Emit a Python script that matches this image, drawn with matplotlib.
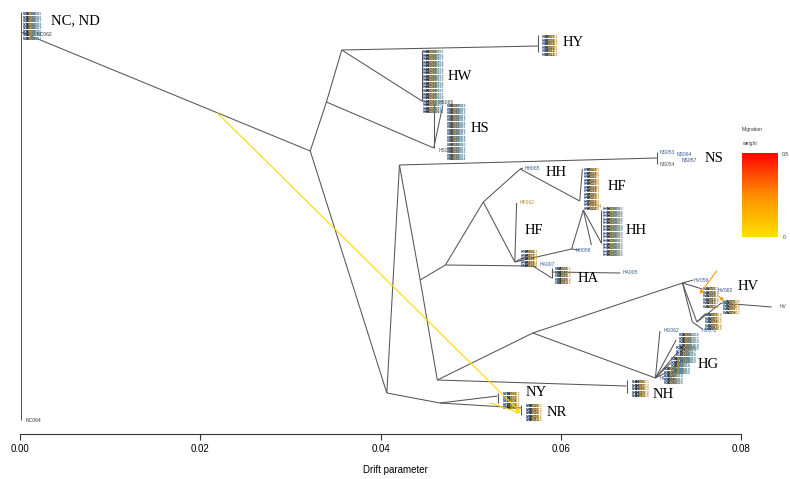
import matplotlib
matplotlib.use('Agg')
import matplotlib.pyplot as plt
import numpy as np
from matplotlib import font_manager
from matplotlib.colors import LinearSegmentedColormap

# tree nodes: (drift parameter, vertical position counted from the top)
nodes = {
    'root': (0.0001, 32), 'rtop': (0.0001, 12), 'nc064': (0.0001, 420),
    'A': (0.0322, 151), 'B': (0.0340, 102), 'C': (0.0357, 50),
    'HYn': (0.0575, 46), 'HYa': (0.0575, 35), 'HYb': (0.0575, 52),
    'HWn': (0.0446, 101), 'HWt': (0.0446, 50),
    'HSn': (0.0459, 148), 'HSt': (0.0459, 104), 'HSm': (0.0469, 106),
    'D': (0.0407, 393), 'E': (0.0421, 165),
    'NSn': (0.0707, 158), 'NSa': (0.0707, 152), 'NSb': (0.0707, 164),
    'F': (0.0444, 280), 'G': (0.0463, 380), 'H': (0.0472, 265),
    'I': (0.0514, 202), 'J': (0.0555, 169), 'hh065': (0.0558, 168),
    'HFn': (0.0621, 201), 'HFt': (0.0624, 169),
    'K': (0.0549, 262), 'hf062': (0.0551, 203), 'hfs': (0.0560, 257),
    'L': (0.0612, 249), 'M': (0.0625, 210), 'hh058': (0.0620, 250),
    'Q': (0.0634, 245), 'R2': (0.0645, 243), 'hhA': (0.0645, 210),
    'HAn': (0.0569, 266), 'ha007': (0.0573, 266), 'HAc': (0.0590, 278),
    'HAd': (0.0590, 268), 'HAe': (0.0590, 272), 'ha005': (0.0666, 273),
    'P': (0.0466, 403), 'NYn': (0.0530, 396), 'NYa': (0.0530, 393), 'NYb': (0.0530, 403),
    'NRn': (0.0556, 408), 'NRa': (0.0556, 405), 'NRb': (0.0556, 415),
    'NHn': (0.0673, 386), 'NHa': (0.0673, 380), 'NHb': (0.0673, 393),
    'N': (0.0569, 333),
    'HVn': (0.0735, 283), 'v1': (0.0747, 280), 'Va': (0.0746, 322), 'Vb': (0.0751, 322),
    'Vc': (0.0778, 303), 'hvx': (0.0834, 307), 'hv072': (0.0757, 329),
    'Vd': (0.0760, 314), 'Ve': (0.0757, 289),
    'HGn': (0.0705, 378), 'hg062': (0.0710, 331), 'G1': (0.0728, 340),
    'G2': (0.0730, 352), 'G3': (0.0722, 363), 'G4': (0.0716, 373),
}
edges = [
    ('root', 'rtop'), ('root', 'nc064'), ('root', 'A'),
    ('A', 'B'), ('B', 'C'), ('C', 'HYn'), ('HYn', 'HYa'), ('HYn', 'HYb'),
    ('C', 'HWn'), ('HWn', 'HWt'), ('B', 'HSn'), ('HSn', 'HSt'), ('HSn', 'HSm'),
    ('A', 'D'), ('D', 'E'), ('E', 'NSn'), ('NSn', 'NSa'), ('NSn', 'NSb'),
    ('E', 'F'), ('F', 'G'), ('F', 'H'), ('H', 'I'), ('I', 'J'), ('J', 'hh065'),
    ('J', 'HFn'), ('HFn', 'HFt'), ('I', 'K'), ('K', 'hf062'), ('K', 'hfs'),
    ('K', 'L'), ('L', 'M'), ('L', 'hh058'), ('M', 'Q'), ('M', 'R2'), ('R2', 'hhA'),
    ('H', 'HAn'), ('HAn', 'ha007'), ('HAn', 'HAc'), ('HAc', 'HAd'), ('HAe', 'ha005'),
    ('D', 'P'), ('P', 'NYn'), ('NYn', 'NYa'), ('NYn', 'NYb'),
    ('P', 'NRn'), ('NRn', 'NRa'), ('NRn', 'NRb'),
    ('G', 'NHn'), ('NHn', 'NHa'), ('NHn', 'NHb'), ('G', 'N'),
    ('N', 'HVn'), ('HVn', 'v1'), ('HVn', 'Va'), ('HVn', 'Vb'), ('Vb', 'Vc'),
    ('Vc', 'hvx'), ('Va', 'hv072'), ('Vb', 'Vd'), ('HVn', 'Ve'),
    ('N', 'HGn'), ('HGn', 'hg062'), ('HGn', 'G1'), ('HGn', 'G2'), ('HGn', 'G3'), ('HGn', 'G4'),
]

# dense sample clusters: prefix, left drift, top row, rows per column, columns
clusterPrefix = ['NC', 'HY', 'HW', 'HS', 'HF', 'HH', 'HA', 'NY', 'NR', 'NH',
                 'HV', 'HV', 'HV', 'HG', 'HG', 'HG', 'HG', 'HF']
clusterLeft = [0.0003, 0.0579, 0.0447, 0.0473, 0.0625, 0.0647, 0.0593, 0.0536, 0.0561, 0.0679,
               0.0757, 0.0780, 0.0760, 0.0731, 0.0728, 0.0722, 0.0714, 0.0556]
clusterTop = [12, 35, 50, 104, 168, 207, 267, 392, 404, 380,
              287, 300, 313, 333, 346, 357, 367, 250]
clusterRows = [8, 6, 18, 16, 12, 14, 5, 5, 5, 5, 6, 4, 5, 5, 5, 5, 5, 5]
clusterCols = [4, 3, 4, 4, 3, 4, 3, 3, 3, 3, 3, 3, 3, 4, 4, 4, 4, 3]

# single tip labels
tipNames = ['NC062', 'NC064', 'HS065', 'HS052', 'HH065', 'HF062', 'HA007', 'HA005', 'HH058',
            'HH064', 'NS053', 'NS064', 'NS057', 'NS054', 'HV082', 'HV072', 'HV', 'HG062',
            'HG051', 'HV058']
tipX = [0.0018, 0.0006, 0.0464, 0.0464, 0.0560, 0.0554, 0.0576, 0.0669, 0.0616,
        0.0629, 0.0710, 0.0728, 0.0734, 0.0710, 0.0774, 0.0756, 0.0843, 0.0714,
        0.0710, 0.0747]
tipY = [34, 420, 102, 151, 168, 203, 265, 272, 251,
        207, 153, 155, 160, 165, 290, 330, 307, 331,
        379, 280]
tipColor = ['#333333', '#333333', '#444444', '#555555', '#3a5f9a', '#b08a30', '#3a5f9a', '#3a5f9a',
            '#3a5f9a', '#b08a30', '#3a5f9a', '#3a5f9a', '#2f4f7f', '#555555', '#2f4f7f',
            '#3a5f9a', '#444444', '#3a5f9a', '#2f4f7f', '#3a5f9a']

# population group labels
groupNames = ['NC, ND', 'HY', 'HW', 'HS', 'NS', 'HH', 'HF', 'HF', 'HH', 'HA',
              'HV', 'HG', 'NH', 'NY', 'NR']
groupX = [0.0061, 0.0614, 0.0488, 0.0510, 0.0770, 0.0595, 0.0662, 0.0570, 0.0684, 0.0630,
          0.0808, 0.0763, 0.0714, 0.0573, 0.0596]
groupY = [21, 43, 77, 128, 158, 172, 187, 230, 230, 278,
          287, 365, 395, 393, 412]

# migration edges: start position, end position, weight
migStartX = [0.0219, 0.0522, 0.0773, 0.0775]
migStartY = [113, 403, 271, 296]
migEndX = [0.0555, 0.0555, 0.0754, 0.0781]
migEndY = [412, 413, 294, 301]
migWeight = [0.03, 0.03, 0.22, 0.20]

names = {f.name for f in font_manager.fontManager.ttflist}
narrow = 'Liberation Sans Narrow' if 'Liberation Sans Narrow' in names else 'Liberation Sans'

lineColor = '#555555'
colColors = ['#2f4f7f', '#1e1e1e', '#c49a3a', '#4f86aa']
cmap = LinearSegmentedColormap.from_list('mig', ['#ffe100', '#ff8c00', '#ff0000'])

fig = plt.figure(figsize=(7.9, 4.79), dpi=100)
ax = fig.add_axes([0, 1 - 434 / 479, 1, 429 / 479])
ax.set_xlim(-20 / 9013, 770 / 9013)
ax.set_ylim(434, 5)

for a, b in edges:
    x0, y0 = nodes[a]
    x1, y1 = nodes[b]
    ax.plot([x0, x1], [y0, y1], color=lineColor, lw=0.75, solid_capstyle='butt', zorder=2)

for prefix, x0, top, nrow, ncol in zip(clusterPrefix, clusterLeft, clusterTop, clusterRows, clusterCols):
    k = 1
    for j in range(ncol):
        lines = []
        for i in range(nrow):
            lines.append(f'{prefix}{k:03d}')
            k += 1
        ax.text(x0 + j * 0.00035, top, '\n'.join(lines), fontsize=2.1, linespacing=0.85,
                color=colColors[j % len(colColors)], ha='left', va='top',
                family='DejaVu Sans', fontweight='bold', zorder=3, clip_on=False)

for name, x, y, c in zip(tipNames, tipX, tipY, tipColor):
    ax.text(x, y, name, fontsize=3.6, color=c, ha='left', va='center', family=narrow, zorder=3)

for name, x, y in zip(groupNames, groupX, groupY):
    ax.text(x, y, name, fontsize=10.5, ha='center', va='center', family='Liberation Serif',
            color='black', zorder=4)

for sx, sy, ex, ey, w in zip(migStartX, migStartY, migEndX, migEndY, migWeight):
    col = cmap(w / 0.5)
    ax.annotate('', xy=(ex, ey), xytext=(sx, sy),
                arrowprops=dict(arrowstyle='-|>', color=col, lw=0.8, mutation_scale=5,
                                shrinkA=0, shrinkB=0), zorder=5)

for s in ['top', 'right', 'left']:
    ax.spines[s].set_visible(False)
ax.spines['bottom'].set_bounds(0, 0.08)
ax.spines['bottom'].set_color('#333333')
ax.spines['bottom'].set_linewidth(0.8)
ax.set_xticks([0, 0.02, 0.04, 0.06, 0.08])
ax.set_xticklabels(['0.00', '0.02', '0.04', '0.06', '0.08'], family=narrow, fontsize=7)
ax.tick_params(axis='x', length=4, width=0.8, color='#333333', pad=3)
ax.set_yticks([])
ax.set_xlabel('Drift parameter', family=narrow, fontsize=7, labelpad=8)
ax.patch.set_visible(False)

# migration weight legend
cax = fig.add_axes([742 / 790, 1 - 237 / 479, 36 / 790, 84 / 479])
grad = np.linspace(0, 1, 256).reshape(-1, 1)
cax.imshow(grad, aspect='auto', cmap=cmap, origin='lower', extent=[0, 1, 0, 1])
cax.set_axis_off()
fig.text(742 / 790, 1 - 130 / 479, 'Migration', fontsize=3.6, family=narrow, color='#333333', va='center')
fig.text(742 / 790, 1 - 143 / 479, 'weight', fontsize=3.6, family=narrow, color='#333333', va='center')
fig.text(782 / 790, 1 - 154 / 479, '0.5', fontsize=3.6, family=narrow, color='#333333', va='center')
fig.text(783 / 790, 1 - 237 / 479, '0', fontsize=3.6, family=narrow, color='#333333', va='center')

fig.savefig('out.png', dpi=100)
